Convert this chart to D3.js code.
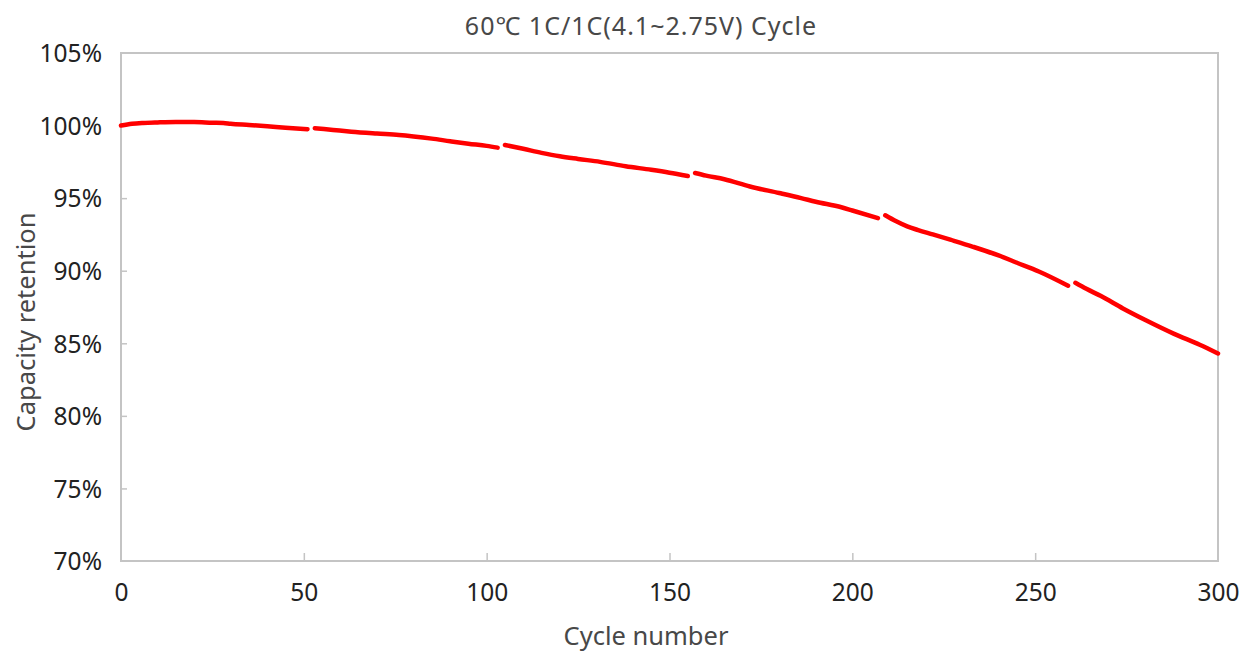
<!DOCTYPE html>
<html>
<head>
<meta charset="utf-8">
<script src="https://cdn.jsdelivr.net/npm/d3@7"></script>
<style>
  html, body { margin: 0; padding: 0; background: #fff; }
  svg { display: block; }
</style>
</head>
<body>
<svg id="chart" width="1240" height="661"></svg>
<script>
// ---- data ----
const title = "60\u2103 1C/1C(4.1~2.75V) Cycle";
const xLabel = "Cycle number";
const yLabel = "Capacity retention";
const xTicks = [0, 50, 100, 150, 200, 250, 300];
const yTicks = [70, 75, 80, 85, 90, 95, 100, 105];
const cycles = [
  0, 3, 6, 10, 15, 20, 25, 28, 30, 35, 40, 45, 51,
  52,
  53, 58, 63, 70, 76, 80, 85, 90, 95, 100, 103,
  104,
  105, 110, 115, 120, 125, 131, 138, 145, 150, 155,
  156,
  157, 160, 165, 172, 180, 186, 190, 197, 200, 207,
  208,
  209, 212, 215, 218, 222, 227, 233, 240, 245, 251, 259,
  260,
  261, 264, 268, 274, 280, 288, 295, 300
];
const retention = [
  100.0, 100.12, 100.18, 100.22, 100.25, 100.24, 100.2, 100.18, 100.12, 100.04, 99.95, 99.85, 99.75,
  null,
  99.82, 99.7, 99.58, 99.45, 99.35, 99.25, 99.1, 98.92, 98.75, 98.6, 98.48,
  null,
  98.66, 98.4, 98.12, 97.88, 97.7, 97.5, 97.2, 96.95, 96.75, 96.52,
  null,
  96.73, 96.55, 96.3, 95.8, 95.35, 95.0, 94.75, 94.37, 94.15, 93.62,
  null,
  93.82, 93.4, 93.05, 92.8, 92.5, 92.12, 91.65, 91.05, 90.55, 89.95, 88.97,
  null,
  89.17, 88.75, 88.25, 87.4, 86.62, 85.65, 84.9, 84.3
];

// ---- layout ----
const svg = d3.select("#chart");
const mLeft = 121, mRight = 1218, mTop = 53, mBottom = 561;
const x = d3.scaleLinear().domain([0, 300]).range([mLeft, mRight]);
const y = d3.scaleLinear().domain([70, 105]).range([mBottom, mTop]);
const frameColor = "#c4c4c4";
const fontFam = "'Noto Sans', 'Noto Sans CJK KR', sans-serif";

// frame
svg.append("rect")
  .attr("x", mLeft).attr("y", mTop)
  .attr("width", mRight - mLeft).attr("height", mBottom - mTop)
  .attr("fill", "none").attr("stroke", frameColor).attr("stroke-width", 2);

// y axis
const yAxis = d3.axisLeft(y).tickValues(yTicks).tickSize(-6).tickPadding(19)
  .tickFormat(d => d + "%");
const gy = svg.append("g").attr("transform", `translate(${mLeft},0)`).call(yAxis);
gy.select(".domain").remove();
gy.selectAll(".tick line").attr("stroke", frameColor).attr("stroke-width", 1.5)
  .filter(d => d === 70 || d === 105).remove();
gy.selectAll(".tick text").attr("font-family", fontFam).attr("font-size", 24.5)
  .attr("fill", "#222").attr("dy", "0.36em");

// x axis
const xAxis = d3.axisBottom(x).tickValues(xTicks).tickSize(-8).tickPadding(23)
  .tickFormat(d3.format("d"));
const gx = svg.append("g").attr("transform", `translate(0,${mBottom})`).call(xAxis);
gx.select(".domain").remove();
gx.selectAll(".tick line").attr("stroke", frameColor).attr("stroke-width", 1.5)
  .filter(d => d === 0 || d === 300).remove();
gx.selectAll(".tick text").attr("font-family", fontFam).attr("font-size", 24.5)
  .attr("fill", "#222");

// line
const pts = cycles.map((c, i) => ({c, v: retention[i]}));
const line = d3.line()
  .defined(d => d.v !== null)
  .x(d => x(d.c)).y(d => y(d.v))
  .curve(d3.curveMonotoneX);
svg.append("path").datum(pts)
  .attr("d", line)
  .attr("fill", "none").attr("stroke", "#ff0000")
  .attr("stroke-width", 4.5).attr("stroke-linecap", "round").attr("stroke-linejoin", "round");

// titles
svg.append("text").attr("x", 641).attr("y", 35).attr("text-anchor", "middle")
  .attr("font-family", fontFam).attr("font-size", 25).attr("letter-spacing", 1)
  .attr("fill", "#484848")
  .text(title);
svg.append("text").attr("x", 646).attr("y", 645).attr("text-anchor", "middle")
  .attr("font-family", fontFam).attr("font-size", 25.5).attr("fill", "#484848")
  .text(xLabel);
svg.append("text").attr("transform", "translate(35,322) rotate(-90)")
  .attr("text-anchor", "middle")
  .attr("font-family", fontFam).attr("font-size", 25.5).attr("fill", "#484848")
  .text(yLabel);
</script>
</body>
</html>
